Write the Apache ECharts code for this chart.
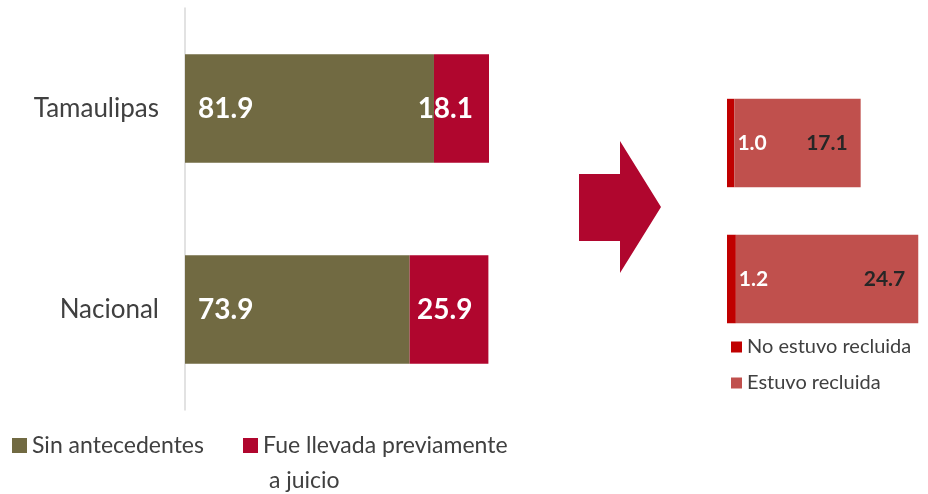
<!DOCTYPE html>
<html>
<head>
<meta charset="utf-8">
<script src="https://cdn.jsdelivr.net/npm/echarts@6/dist/echarts.min.js"></script>
<style>
  html, body { margin: 0; padding: 0; background: #fff; }
  #chart { width: 928px; height: 494px; }
</style>
</head>
<body>
<div id="chart"></div>
<script>
// datos
const categories = ['Tamaulipas', 'Nacional']
const sinAntecedentes = [81.9, 73.9]
const llevadaJuicio = [18.1, 25.9]
const noRecluida = [1.0, 1.2]
const recluida = [17.1, 24.7]

const FONT = 'Lato'
const fmt = p => Number(p.value).toFixed(1)

const chart = echarts.init(document.getElementById('chart'))

chart.setOption({
  backgroundColor: '#fff',
  animation: false,
  textStyle: { fontFamily: FONT },
  grid: [
    { left: 185, top: 8, width: 304, height: 402 },
    { left: 727, top: 75, width: 192, height: 272 }
  ],
  xAxis: [
    { gridIndex: 0, type: 'value', min: 0, max: 100, show: false },
    { gridIndex: 1, type: 'value', min: 0, max: 26, show: false }
  ],
  yAxis: [
    {
      gridIndex: 0,
      type: 'category',
      data: categories,
      inverse: true,
      axisLine: { show: true, lineStyle: { color: '#d9d9d9', width: 1.5 } },
      axisTick: { show: false },
      axisLabel: { color: '#404040', fontSize: 26, fontFamily: FONT, margin: 26 }
    },
    {
      gridIndex: 1,
      type: 'category',
      data: categories,
      inverse: true,
      show: false
    }
  ],
  legend: [
    {
      data: ['Sin antecedentes'],
      left: 12,
      top: 428,
      padding: 0,
      icon: 'rect',
      itemWidth: 15,
      itemHeight: 15,
      textStyle: { color: '#404040', fontSize: 23, fontFamily: FONT, lineHeight: 35 }
    },
    {
      // línea vacía arriba para alinear el cuadro con la primera línea del texto
      data: ['Fue llevada previamente a juicio'],
      left: 243,
      top: 393,
      padding: 0,
      icon: 'rect',
      itemWidth: 15,
      itemHeight: 15,
      formatter: () => ' \nFue llevada previamente\n a juicio',
      textStyle: { color: '#404040', fontSize: 23, fontFamily: FONT, lineHeight: 35 }
    },
    {
      data: ['No estuvo recluida', 'Estuvo recluida'],
      orient: 'vertical',
      left: 731,
      top: 336,
      padding: 0,
      icon: 'rect',
      itemWidth: 11,
      itemHeight: 11,
      itemGap: 14,
      textStyle: { color: '#404040', fontSize: 20, fontFamily: FONT, lineHeight: 22 }
    }
  ],
  series: [
    {
      name: 'Sin antecedentes',
      type: 'bar',
      stack: 'izq',
      xAxisIndex: 0,
      yAxisIndex: 0,
      barWidth: '54%',
      data: sinAntecedentes,
      itemStyle: { color: '#716a42' },
      label: {
        show: true, position: 'insideLeft', distance: 13, formatter: fmt,
        color: '#fff', fontWeight: 'bold', fontSize: 28, fontFamily: FONT
      }
    },
    {
      name: 'Fue llevada previamente a juicio',
      type: 'bar',
      stack: 'izq',
      xAxisIndex: 0,
      yAxisIndex: 0,
      data: llevadaJuicio,
      itemStyle: { color: '#b0062e' },
      label: {
        show: true, position: 'insideRight', distance: 16, formatter: fmt,
        color: '#fff', fontWeight: 'bold', fontSize: 28, fontFamily: FONT
      }
    },
    {
      name: 'No estuvo recluida',
      type: 'bar',
      stack: 'der',
      xAxisIndex: 1,
      yAxisIndex: 1,
      barWidth: '65%',
      data: noRecluida,
      itemStyle: { color: '#c00000' },
      label: {
        show: true, position: 'right', distance: 3, formatter: fmt,
        color: '#fff', fontWeight: 'bold', fontSize: 21, fontFamily: FONT
      }
    },
    {
      name: 'Estuvo recluida',
      type: 'bar',
      stack: 'der',
      xAxisIndex: 1,
      yAxisIndex: 1,
      data: recluida,
      itemStyle: { color: '#c0504d' },
      label: {
        show: true, position: 'insideRight', distance: 13, formatter: fmt,
        color: '#262626', fontWeight: 'bold', fontSize: 21, fontFamily: FONT
      }
    }
  ],
  graphic: [
    {
      type: 'polygon',
      shape: {
        points: [[579, 174], [620, 174], [620, 141], [661, 207], [620, 273], [620, 241], [579, 241]]
      },
      style: { fill: '#b0062e' }
    }
  ]
})
</script>
</body>
</html>
